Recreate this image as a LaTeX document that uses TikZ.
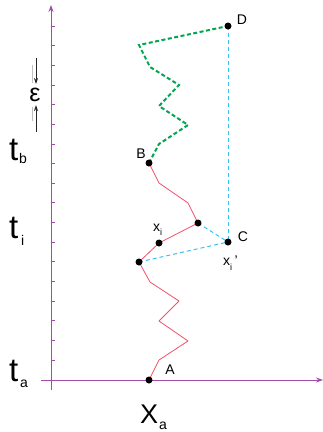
\documentclass[tikz,border=0pt]{standalone}
\usepackage{fontspec}
\setmainfont{Liberation Sans}
\usetikzlibrary{arrows.meta}
\definecolor{axispurple}{HTML}{A24BAA}
\definecolor{pathred}{HTML}{F2506B}
\definecolor{pathgreen}{HTML}{00A651}
\definecolor{pathcyan}{HTML}{38C3EF}
\tikzset{
  axisline/.style={draw=axispurple, line width=1pt, -{Stealth[length=7pt,width=5pt]}},
  tickline/.style={draw=axispurple, line width=0.8pt},
  redpath/.style={draw=pathred, line width=0.8pt, line join=round},
  greenpath/.style={draw=pathgreen, line width=2pt, dash pattern=on 4pt off 2.5pt},
  cyanpath/.style={draw=pathcyan, line width=1pt, dash pattern=on 4pt off 3pt},
  dot/.style={circle, fill=black, inner sep=0pt, minimum size=7pt},
  ptlabel/.style={inner sep=0pt, font=\fontsize{14}{14}\selectfont},
  biglabel/.style={inner sep=0pt, anchor=base west, font=\fontsize{33}{33}\selectfont},
  sublabel/.style={inner sep=0pt, anchor=base west, font=\fontsize{14}{14}\selectfont},
  epsarrow/.style={draw=black!85, line width=0.8pt, -{Stealth[length=6pt,width=4pt]}},
  faint/.style={draw=black!25, line width=0.6pt}
}
\begin{document}
\begin{tikzpicture}[x=1pt,y=-1pt]
\useasboundingbox (0,0) rectangle (323,432);
% axes
\coordinate (ybot) at (51,390);
\coordinate (ytop) at (51,5);
\coordinate (xleft) at (41,380);
\coordinate (xright) at (323,380);
\foreach \k in {0,...,17} {
  \draw[tickline] (51,{26+\k*19.65}) -- (55,{26+\k*19.65});
}
\draw[axisline] (ybot) -- (ytop);
\draw[axisline] (xleft) -- (xright);
% path points
\coordinate (a) at (149,380);
\coordinate (r1) at (159,360);
\coordinate (r2) at (188,341);
\coordinate (r3) at (159,321);
\coordinate (r4) at (179,301);
\coordinate (r5) at (150,282);
\coordinate (p) at (139,262);
\coordinate (xi) at (159,243);
\coordinate (q) at (198,223);
\coordinate (r6) at (188,203);
\coordinate (r7) at (159,183);
\coordinate (b) at (149,163);
\coordinate (g1) at (159,144);
\coordinate (g2) at (188,125);
\coordinate (g3) at (159,106);
\coordinate (g4) at (179,85);
\coordinate (g5) at (150,67);
\coordinate (g6) at (139,45);
\coordinate (d) at (228,26);
\coordinate (c) at (228,242);
% connectors
\draw[cyanpath] (d) -- (c);
\draw[cyanpath] (q) -- (c);
\draw[cyanpath] (p) -- (c);
\draw[redpath] (a) -- (r1) -- (r2) -- (r3) -- (r4) -- (r5) -- (p) -- (xi) -- (q) -- (r6) -- (r7) -- (b);
\draw[greenpath] (b) -- (g1) -- (g2) -- (g3) -- (g4) -- (g5) -- (g6) -- (d);
% dots
\node[dot] (A) at (a) {};
\node[dot] (B) at (b) {};
\node[dot] (C) at (c) {};
\node[dot] (D) at (d) {};
\node[dot] (P) at (p) {};
\node[dot] (Xi) at (xi) {};
\node[dot] (Q) at (q) {};
% point labels
\node[ptlabel] (lA) at (170,370) {A};
\node[ptlabel] (lB) at (141,154) {B};
\node[ptlabel] (lC) at (243,237) {C};
\node[ptlabel] (lD) at (242,20) {D};
\node[inner sep=0pt, anchor=base west, font=\fontsize{14}{14}\selectfont] (lxi) at (153,231) {x\raisebox{-4pt}{\fontsize{9}{9}\selectfont i}};
\node[inner sep=0pt, anchor=base west, font=\fontsize{14}{14}\selectfont] (lxip) at (223,265) {x\raisebox{-5pt}{\fontsize{9}{9}\selectfont i}\,'};
% axis labels
\node[biglabel] (tb) at (9,160) {t};
\node[sublabel] (tbs) at (19,163) {b};
\node[biglabel] (ti) at (9,238) {t};
\node[sublabel] (tis) at (21,245) {i};
\node[biglabel] (ta) at (9,381) {t};
\node[sublabel] (tas) at (20,387) {a};
\node[inner sep=0pt, anchor=base west, font=\fontsize{27}{27}\selectfont] (xa) at (140,423) {X};
\node[sublabel] (xas) at (159,429) {a};
% epsilon
\node[inner sep=0pt, font=\fontsize{25}{25}\selectfont] (eps) at (35,95) {ε};
\coordinate (e1s) at (36,58);
\coordinate (e1e) at (36,84);
\coordinate (e2s) at (36,132);
\coordinate (e2e) at (36,105);
\draw[epsarrow] (e1s) -- (e1e);
\draw[epsarrow] (e2s) -- (e2e);
\coordinate (f1s) at (32,65);
\coordinate (f1e) at (32,83);
\coordinate (f2s) at (32,107);
\coordinate (f2e) at (32,121);
\draw[faint] (f1s) -- (f1e);
\draw[faint] (f2s) -- (f2e);
\end{tikzpicture}
\end{document}
